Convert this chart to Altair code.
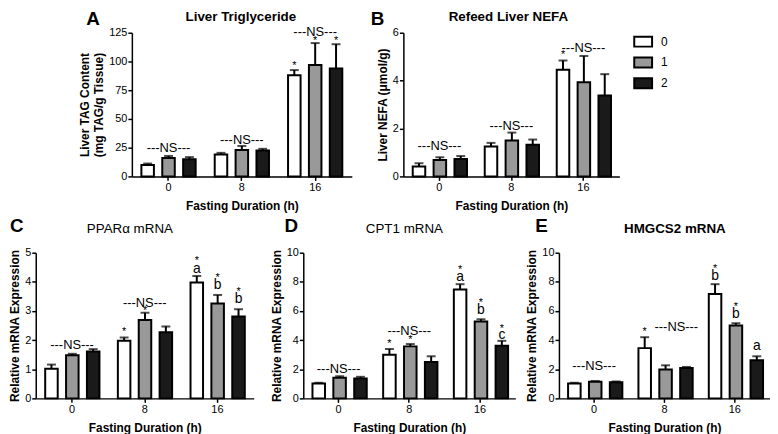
import altair as alt
import pandas as pd

FONT = "Liberation Sans"
groups = ["0", "8", "16"]
doses = ["0", "1", "2"]
fills = ["#ffffff", "#999999", "#1a1a1a"]

# ---- Panel A: Liver Triglyceride (order: group 0,8,16 x dose 0,1,2)
a_mean = [10, 16, 15, 19, 23, 22.5, 88, 97, 94]
a_err = [1.2, 1.8, 1.8, 1.5, 3.5, 1.5, 4.5, 19, 21]
a_ns_group = ["0", "8", "16"]
a_ns_y = [24.5, 32, 126]
a_ns_dx = [0, 0, 0]
a_star_group = ["16", "16", "16"]
a_star_dose = ["0", "1", "2"]
a_star_y = [96.5, 119, 118.5]

# ---- Panel B: Refeed Liver NEFA
b_mean = [0.41, 0.69, 0.73, 1.25, 1.5, 1.32, 4.45, 3.93, 3.38]
b_err = [0.14, 0.11, 0.12, 0.15, 0.33, 0.22, 0.39, 1.1, 0.89]
b_ns_group = ["0", "8", "16"]
b_ns_y = [1.28, 2.1, 5.38]
b_ns_dx = [0, 0, 0]
b_star_group = ["16"]
b_star_dose = ["0"]
b_star_y = [5.1]

# ---- Panel C: PPARa mRNA
c_mean = [1.02, 1.48, 1.61, 1.98, 2.69, 2.27, 3.98, 3.26, 2.81]
c_err = [0.14, 0.05, 0.08, 0.11, 0.25, 0.2, 0.22, 0.29, 0.25]
c_ns_group = ["0", "8"]
c_ns_y = [1.82, 3.26]
c_ns_dx = [0, 0]
c_star_group = ["8", "8", "16", "16", "16"]
c_star_dose = ["0", "1", "0", "1", "2"]
c_star_y = [2.3, 3.03, 4.76, 4.17, 3.67]
c_let_group = ["16", "16", "16"]
c_let_dose = ["0", "1", "2"]
c_let_text = ["a", "b", "b"]
c_let_y = [4.45, 3.89, 3.4]

# ---- Panel D: CPT1 mRNA
d_mean = [1.02, 1.41, 1.36, 3.0, 3.57, 2.5, 7.48, 5.27, 3.61]
d_err = [0.05, 0.11, 0.12, 0.39, 0.16, 0.39, 0.36, 0.16, 0.34]
d_ns_group = ["0", "8"]
d_ns_y = [2.02, 4.6]
d_ns_dx = [0, 0]
d_star_group = ["8", "8", "16", "16", "16"]
d_star_dose = ["0", "1", "0", "1", "2"]
d_star_y = [3.8, 4.07, 8.85, 6.62, 4.85]
d_let_group = ["16", "16", "16"]
d_let_dose = ["0", "1", "2"]
d_let_text = ["a", "b", "c"]
d_let_y = [8.34, 6.07, 4.36]

# ---- Panel E: HMGCS2 mRNA
e_mean = [1.02, 1.14, 1.11, 3.45, 1.98, 2.09, 7.16, 5.0, 2.61]
e_err = [0.05, 0.05, 0.05, 0.75, 0.29, 0.07, 0.68, 0.16, 0.28]
e_ns_group = ["0", "8"]
e_ns_y = [2.2, 4.89]
e_ns_dx = [0, 12]
e_star_group = ["8", "16", "16"]
e_star_dose = ["0", "0", "1"]
e_star_y = [4.6, 8.95, 6.35]
e_let_group = ["16", "16", "16"]
e_let_dose = ["0", "1", "2"]
e_let_text = ["b", "b", "a"]
e_let_y = [8.39, 5.77, 3.61]


def panel(mean, err, ns_g, ns_y, ns_dx, st_g, st_d, st_y, lt_g, lt_d, lt_t, lt_y,
          ymax, yvals, ytitle, w, h, title, tx, ty, tbold, letter, lx, ly,
          legend=None):
    g_col = [g for g in groups for d in doses]
    d_col = [d for g in groups for d in doses]
    df = pd.DataFrame({"group": g_col, "dose": d_col, "mean": mean,
                       "upper": [m + e for m, e in zip(mean, err)]})
    xs = alt.Scale(domain=groups, paddingInner=0.26, paddingOuter=0.13)
    xenc = alt.X("group:N", scale=xs, sort=groups,
                 axis=alt.Axis(title="Fasting Duration (h)", labelAngle=0))
    xoff = alt.XOffset("dose:N", sort=doses,
                       scale=alt.Scale(domain=doses, paddingInner=0.4, paddingOuter=0))
    yscale = alt.Scale(domain=[0, ymax], nice=False, zero=True)
    yaxis = alt.Axis(values=yvals, title=ytitle)

    def yenc(f):
        return alt.Y(f + ":Q", scale=yscale, axis=yaxis)

    base = alt.Chart(df)
    layers = []
    layers.append(base.mark_rule(color="black", strokeWidth=2).encode(
        x=xenc, xOffset=xoff, y=yenc("mean"), y2="upper:Q"))
    layers.append(base.mark_bar(stroke="black", strokeWidth=2).encode(
        x=xenc, xOffset=xoff, y=yenc("mean"),
        fill=alt.Fill("dose:N", scale=alt.Scale(domain=doses, range=fills),
                      legend=legend)))
    layers.append(base.mark_tick(color="black", thickness=2, size=9).encode(
        x=xenc, xOffset=xoff, y=yenc("upper")))
    ns_df = pd.DataFrame({"group": ns_g, "yv": ns_y, "dx": ns_dx,
                          "t": ["---NS---"] * len(ns_g)})
    for dxv in sorted(set(ns_dx)):
        sub = ns_df[ns_df["dx"] == dxv]
        layers.append(alt.Chart(sub).mark_text(font=FONT, fontSize=13, baseline="middle",
                                               dx=dxv, color="black").encode(
            x=xenc, y=yenc("yv"), text="t:N"))
    st_df = pd.DataFrame({"group": st_g, "dose": st_d, "yv": st_y})
    layers.append(alt.Chart(st_df).mark_text(font=FONT, fontSize=11, text="*", dy=1,
                                             baseline="middle", color="black").encode(
        x=xenc, xOffset=xoff, y=yenc("yv")))
    if lt_g:
        lt_df = pd.DataFrame({"group": lt_g, "dose": lt_d, "t": lt_t, "yv": lt_y})
        layers.append(alt.Chart(lt_df).mark_text(font=FONT, fontSize=14,
                                                 baseline="middle", color="black").encode(
            x=xenc, xOffset=xoff, y=yenc("yv"), text="t:N"))
    one = pd.DataFrame({"k": [0]})
    layers.append(alt.Chart(one).mark_text(
        font=FONT, fontSize=13.5, fontWeight="bold" if tbold else "normal",
        align="center", baseline="middle", color="black", text=title).encode(
        x=alt.value(tx), y=alt.value(ty)))
    layers.append(alt.Chart(one).mark_text(
        font=FONT, fontSize=19, fontWeight="bold", align="left", baseline="middle",
        color="black", text=letter).encode(x=alt.value(lx), y=alt.value(ly)))
    return alt.layer(*layers).properties(width=w, height=h)


legend_b = alt.Legend(title=None, orient="none", legendX=236, legendY=3,
                      symbolType="M-3,-1.67H3V1.67H-3Z", symbolSize=36,
                      symbolStrokeColor="black", symbolStrokeWidth=2,
                      labelFont=FONT, labelFontSize=12, labelColor="black",
                      labelOffset=12, rowPadding=1, padding=0)

A = panel(a_mean, a_err, a_ns_group, a_ns_y, a_ns_dx, a_star_group, a_star_dose, a_star_y,
          [], [], [], [], 125, [0, 25, 50, 75, 100, 125],
          ["Liver TAG Content", "(mg TAG/g Tissue)"], 222, 145,
          "Liver Triglyceride", 110, -16, True, "A", -46, -14)
B = panel(b_mean, b_err, b_ns_group, b_ns_y, b_ns_dx, b_star_group, b_star_dose, b_star_y,
          [], [], [], [], 6, [0, 2, 4, 6], "Liver NEFA (\u03bcmol/g)", 218, 145,
          "Refeed Liver NEFA", 106, -16, True, "B", -33, -14, legend=legend_b)
C = panel(c_mean, c_err, c_ns_group, c_ns_y, c_ns_dx, c_star_group, c_star_dose, c_star_y,
          c_let_group, c_let_dose, c_let_text, c_let_y, 5, [0, 1, 2, 3, 4, 5],
          "Relative mRNA Expression", 220, 147,
          "PPAR\u03b1 mRNA", 95, -24, False, "C", -26, -27)
D = panel(d_mean, d_err, d_ns_group, d_ns_y, d_ns_dx, d_star_group, d_star_dose, d_star_y,
          d_let_group, d_let_dose, d_let_text, d_let_y, 10, [0, 2, 4, 6, 8, 10],
          "Relative mRNA Expression", 214, 147,
          "CPT1 mRNA", 102, -24, False, "D", -19, -27)
E = panel(e_mean, e_err, e_ns_group, e_ns_y, e_ns_dx, e_star_group, e_star_dose, e_star_y,
          e_let_group, e_let_dose, e_let_text, e_let_y, 10, [0, 2, 4, 6, 8, 10],
          "Relative mRNA Expression", 213, 147,
          "HMGCS2 mRNA", 117, -24, True, "E", -24, -27)

blank = alt.Chart(pd.DataFrame({"k": [0]})).mark_point(opacity=0).encode(
    x=alt.value(0), y=alt.value(0)).properties(width=45, height=145)

row1 = alt.hconcat(blank, A, B, spacing=52, bounds="flush").resolve_scale(fill="independent")
de = alt.hconcat(D, E, spacing=44, bounds="flush").resolve_scale(fill="independent")
row2 = alt.hconcat(C, de, spacing=50, bounds="flush").resolve_scale(fill="independent")

chart = alt.vconcat(row1, row2, spacing=6).resolve_scale(
    fill="independent"
).properties(
    padding={"left": 0, "top": 0, "right": 0, "bottom": 0}
).configure_view(stroke=None).configure_axis(
    domainColor="black", domainWidth=1.5, tickColor="black", tickWidth=1.5,
    tickSize=4, labelFont=FONT, labelFontSize=11, labelColor="black",
    labelPadding=1, titleFont=FONT, titleFontSize=12, titleFontWeight="bold",
    titleColor="black", titlePadding=3, grid=False
).configure_axisX(titlePadding=8).configure_text(font=FONT)

chart.save("out.html", embed_options={"renderer": "svg", "actions": False})
